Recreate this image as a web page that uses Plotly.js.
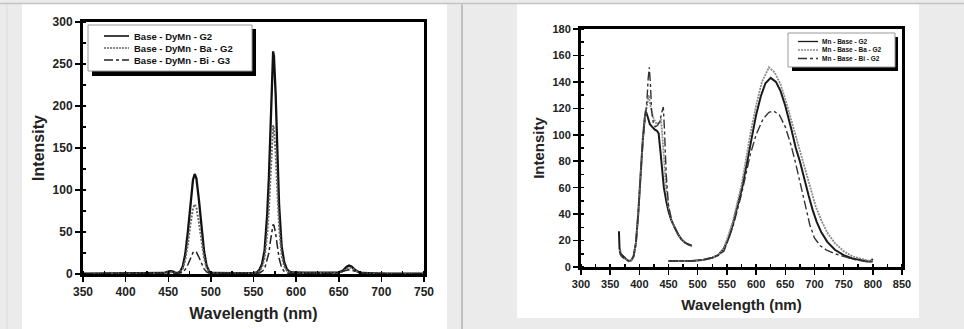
<!DOCTYPE html>
<html><head><meta charset="utf-8">
<script src="https://cdn.plot.ly/plotly-3.0.1.min.js"></script>
<style>html,body{margin:0;padding:0;background:#ebebeb;}#chart{width:964px;height:329px;}</style>
</head><body><div id="chart"></div>
<script>
// ---------- Left chart: Base - DyMn series ----------
var dyX_G2 = [350,400,430,440,445,449,452,455,458,461,464,467,470,473,476,479,481,483,486,489,492,495,498,502,510,530,550,554,557,560,563,566,568,570,572,573,574,576,578,580,583,586,589,592,596,600,610,630,645,650,655,659,662,665,669,673,678,685,700,750];
var dyY_G2 = [0.3,0.4,0.6,0.8,1.2,2.5,3.5,3,1.6,1.2,3,9,24,50,84,112,119,114,88,55,27,10,3,1.2,1,1,1.3,2,5,12,28,70,113,181,250,265,259,214,147,83,33,14,6,3,1.8,1.5,1.5,1.5,1.6,2,4,8.5,10,9,5,2.5,1.2,0.7,0.4,0.3];

var dyX_Ba = [350,400,440,446,450,453,456,460,464,467,470,473,476,479,481,483,486,489,492,495,498,502,510,530,550,554,557,560,563,566,568,570,572,573,574,576,578,580,583,586,589,592,596,600,620,645,650,655,659,662,665,669,673,678,690,750];
var dyY_Ba = [0.2,0.3,0.5,1,2,2.2,1.5,1,2,6,17,35,59,78,83,79,61,38,19,7,2,1,0.8,0.8,1,1.5,3.5,8,19,47,76,121,167,177,173,143,98,56,22,9,4,2,1.2,1,1,1.2,1.5,3.2,6.5,8,7,4,2,1,0.4,0.2];

var dyX_Bi = [350,400,440,446,450,453,456,462,467,470,473,476,479,481,483,486,489,492,495,498,502,510,530,550,557,560,563,566,568,570,572,573,574,576,578,580,583,586,589,592,600,620,645,652,657,662,667,672,680,750];
var dyY_Bi = [0.2,0.2,0.4,0.7,1,1.2,0.8,0.8,2,5.5,11,19,25.5,27,26,20,12.5,6,2.5,1,0.6,0.5,0.5,0.6,1.2,3,6,16,25,40,56,59,58,48,33,19,7.5,3,1.3,0.7,0.6,0.6,0.8,2,4,5,4,2,0.6,0.2];

// ---------- Right chart: Mn - Base series (excitation + emission, null = gap) ----------
var mnX_G2 = [365,366,368,372,377,382,386,390,394,398,402,406,409,411,414,418,422,426,430,433,436,439,442,446,450,455,460,466,472,478,484,490,null,
              450,470,490,510,525,535,545,553,560,568,576,584,592,600,608,616,625,634,642,650,660,668,675,682,690,697,704,712,722,735,750,765,780,795,800];
var mnY_G2 = [27,14,10,8,6,4.5,5,8,18,40,70,97,112,118,114,108,106,104,103,101,88,72,60,50,42,35,30,25,21,18.5,17,16,null,
              4.5,4.3,4.5,5.5,7,9,14,22,32,46,60,78,97,115,129,139,143,140,133,122,105,90,80,67,54,43,34,26,19,13,9,6.5,5,4,6];

var mnX_Ba = [366,368,372,377,382,386,390,394,398,402,406,410,413,416,419,423,427,430,434,437,440,443,446,450,455,460,466,472,478,484,490,null,
              450,470,490,510,525,535,545,560,575,590,600,610,622,632,642,652,662,672,682,692,702,712,722,735,750,765,780,795,800];
var mnY_Ba = [13,9,7,5.5,4.5,5,8,17,39,69,96,114,124,130,122,114,110,108,109,112,96,75,58,45,36,30,25,21,18.5,17,16,null,
              4.5,4.3,4.5,5.5,7,9,14,34,62,100,122,140,151,147,138,124,108,92,76,60,46,35,26,18,12,8,6,4.5,5];

var mnX_Bi = [366,368,372,377,382,386,390,394,398,402,406,410,413,415,417,419,421,424,427,431,435,438,441,443,446,450,455,460,466,472,478,484,490,null,
              450,470,490,510,525,535,545,560,575,590,600,612,622,630,640,650,660,668,676,684,692,700,710,720,735,750,770,790,800];
var mnY_Bi = [12,9,7,5.5,4.5,5,8,17,39,69,96,113,126,142,151,138,118,109,106,107,110,116,121,104,70,46,36,30,25,21,18.5,17,16,null,
              4.5,4.3,4.5,5.5,7,9,12,30,55,85,100,112,117,118,115,106,92,78,62,46,32,22,16,13,10,8,5.5,4,4];

var leftNames = ['Base - DyMn - G2','Base - DyMn - Ba - G2','Base - DyMn - Bi - G3'];
var rightNames = ['Mn - Base - G2','Mn - Base - Ba - G2','Mn - Base - Bi - G2'];

// ---------- layout helpers ----------
var W = 964, H = 329;
function PX(x){return x/W;}
function PY(y){return 1 - y/H;}

var FONT = 'Liberation Sans, Arial, sans-serif';
var styles = [
  {color:'#111', width:2.3, dash:'solid'},
  {color:'#666', width:2, dash:'2px,1.5px'},
  {color:'#222', width:1.5, dash:'dashdot'}
];

var traces = [
  {x:dyX_G2, y:dyY_G2, name:leftNames[0], xaxis:'x', yaxis:'y', mode:'lines', line:styles[0], showlegend:false},
  {x:dyX_Ba, y:dyY_Ba, name:leftNames[1], xaxis:'x', yaxis:'y', mode:'lines', line:styles[1], showlegend:false},
  {x:dyX_Bi, y:dyY_Bi, name:leftNames[2], xaxis:'x', yaxis:'y', mode:'lines', line:styles[2], showlegend:false},
  {x:mnX_G2, y:mnY_G2, name:rightNames[0], xaxis:'x2', yaxis:'y2', mode:'lines', connectgaps:false, line:{color:'#1a1a1a', width:2}, showlegend:false},
  {x:mnX_Ba, y:mnY_Ba, name:rightNames[1], xaxis:'x2', yaxis:'y2', mode:'lines', connectgaps:false, line:{color:'#8a8a8a', width:1.8, dash:'2px,1px'}, showlegend:false},
  {x:mnX_Bi, y:mnY_Bi, name:rightNames[2], xaxis:'x2', yaxis:'y2', mode:'lines', connectgaps:false, line:{color:'#333', width:1.4, dash:'dashdot'}, showlegend:false}
];

function axisCommon(tickSize){
  return {
    showgrid:false, zeroline:false, showline:true, linecolor:'#000', linewidth:3, mirror:true,
    ticks:'outside', ticklen:5, tickwidth:1.5, tickcolor:'#000',
    minor:{ticks:'inside', ticklen:3, tickwidth:1.5, tickcolor:'#000'},
    tickfont:{family:FONT, size:tickSize, color:'#222', weight:'bold'},
    fixedrange:true
  };
}

var xa = Object.assign(axisCommon(12), {domain:[PX(83),PX(424)], range:[350,750], dtick:50, anchor:'y',
  title:{text:'Wavelength (nm)', font:{family:FONT, size:16, color:'#222', weight:'bold'}, standoff:10}});
xa.minor.dtick = 25;
var ya = Object.assign(axisCommon(12), {domain:[PY(274),PY(22)], range:[0,300], dtick:50, anchor:'x',
  title:{text:'Intensity', font:{family:FONT, size:16, color:'#222', weight:'bold'}, standoff:4}});
ya.minor.dtick = 25;
var xa2 = Object.assign(axisCommon(11), {domain:[PX(581),PX(902)], range:[300,850], dtick:50, anchor:'y2',
  title:{text:'Wavelength (nm)', font:{family:FONT, size:15, color:'#222', weight:'bold'}, standoff:11}});
xa2.minor.dtick = 25;
var ya2 = Object.assign(axisCommon(11), {domain:[PY(267),PY(29)], range:[0,180], dtick:20, anchor:'x2',
  title:{text:'Intensity', font:{family:FONT, size:15, color:'#222', weight:'bold'}, standoff:5}});
ya2.minor.dtick = 10;

function rect(x0,y0,x1,y1,fill,lineColor,lw,layer){
  return {type:'rect', xref:'paper', yref:'paper', x0:PX(x0), x1:PX(x1), y0:PY(y1), y1:PY(y0),
    fillcolor:fill, line:{color:lineColor||fill, width:lw||0}, layer:layer||'below'};
}
function seg(x0,y0,x1,y1,color,width,dash,layer){
  return {type:'line', xref:'paper', yref:'paper', x0:PX(x0), x1:PX(x1), y0:PY(y0), y1:PY(y1),
    line:{color:color, width:width, dash:dash||'solid'}, layer:layer||'below'};
}

var shapes = [
  rect(22,4,447,329,'#ffffff'),
  rect(517,4,919,318,'#ffffff'),
  seg(0,3.5,964,3.5,'#c4c4c4',1.5),
  seg(462,4,462,329,'#c0c0c0',2),
  seg(7,4,7,329,'#dcdcdc',1),
  // left legend box with shadow
  rect(92,29,256,76,'#000','#000',0,'above'),
  rect(88,25,252,71,'#ffffff','#9a9a9a',1,'above'),
  // right legend box with shadow
  rect(792,37,898,71,'#000','#000',0,'above'),
  rect(788,33,895,67,'#ffffff','#9a9a9a',1,'above')
];
var leftRows = [36,48,60];
var rightRows = [41.5,50,58.5];
var rightLeg = [{c:'#1a1a1a',d:'solid'},{c:'#8a8a8a',d:'2px,1px'},{c:'#333',d:'dashdot'}];
var annotations = [];
for (var i=0;i<3;i++){
  shapes.push(seg(104,leftRows[i],129,leftRows[i],styles[i].color,1.6,i===1?'2px,1px':styles[i].dash,'above'));
  annotations.push({xref:'paper', yref:'paper', x:PX(132), y:PY(leftRows[i]), xanchor:'left', yanchor:'middle',
    text:leftNames[i], showarrow:false, font:{family:FONT, size:9.5, color:'#111', weight:'bold'}});
  shapes.push(seg(798,rightRows[i],818,rightRows[i],rightLeg[i].c,1.3,rightLeg[i].d,'above'));
  annotations.push({xref:'paper', yref:'paper', x:PX(820), y:PY(rightRows[i]), xanchor:'left', yanchor:'middle',
    text:rightNames[i], showarrow:false, font:{family:FONT, size:6.5, color:'#111', weight:'bold'}});
}

var layout = {
  width:W, height:H, margin:{l:0,r:0,t:0,b:0},
  paper_bgcolor:'#ebebeb', plot_bgcolor:'rgba(0,0,0,0)',
  showlegend:false,
  xaxis:xa, yaxis:ya, xaxis2:xa2, yaxis2:ya2,
  shapes:shapes, annotations:annotations,
  font:{family:FONT}
};

Plotly.newPlot('chart', traces, layout, {displayModeBar:false, staticPlot:true});
</script></body></html>
